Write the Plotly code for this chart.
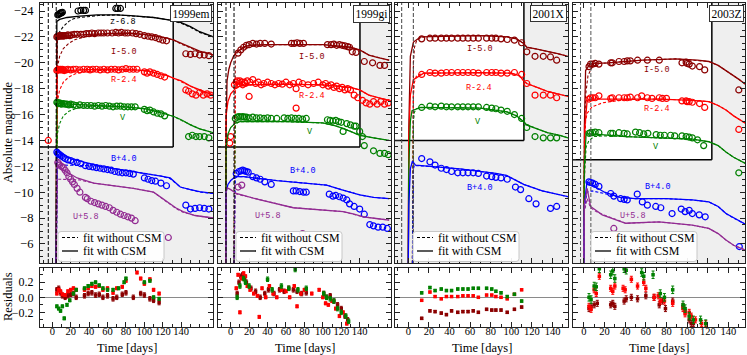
import plotly.graph_objects as go

# ---------------- SN 1999em ----------------
em_z_t = [6, 7, 8, 9, 10, 11, 28, 31, 34, 36, 69, 71, 74]
em_z = [-23.7, -23.75, -23.8, -23.85, -23.85, -23.9, -24.0, -24.05, -24.05, -24.05, -24.2, -24.2, -24.2]
em_z_fit_t = [4.3, 4.6, 5, 8, 16, 30, 49, 70, 85, 110, 128, 140, 150, 160, 175]
em_z_fit = [-4.5, -15, -23.2, -23.35, -23.5, -23.6, -23.7, -23.7, -23.65, -23.5, -23.3, -23.1, -22.8, -22.4, -22.0]
em_z_nocsm_t = [4.3, 4.8, 5.5, 8, 12, 18, 23, 30, 38, 50, 70, 110, 128, 140, 150, 160, 175]
em_z_nocsm = [-4.5, -18, -21.9, -22.4, -22.8, -23.2, -23.4, -23.5, -23.55, -23.65, -23.7, -23.5, -23.3, -23.05, -22.75, -22.35, -22.0]

em_I_t = [5, 6, 7, 8, 9, 10, 11, 12, 13, 15, 17, 19, 21, 24, 27, 31, 34, 37, 40, 43, 46, 50, 53, 56,
          60, 65, 69, 72, 75, 79, 82, 87, 91, 95, 100, 104, 108, 112, 116, 120, 124, 145, 150, 155, 160, 165, 170]
em_I = [-22.0, -22.05, -22.05, -22.1, -22.05, -22.1, -22.1, -22.05, -22.1, -22.1, -22.15, -22.1, -22.15, -22.2,
        -22.2, -22.2, -22.2, -22.25, -22.25, -22.3, -22.25, -22.3, -22.3, -22.3, -22.3, -22.3, -22.35, -22.3,
        -22.35, -22.3, -22.3, -22.3, -22.25, -22.2, -22.1, -22.05, -22.0, -21.95, -21.85, -21.75, -21.7,
        -20.7, -20.65, -20.7, -20.6, -20.6, -20.55]
em_I_fit_t = [4.3, 4.6, 5, 10, 20, 40, 60, 80, 100, 115, 125, 132, 140, 150, 160, 175]
em_I_fit = [-4.5, -15, -21.9, -22.0, -22.1, -22.2, -22.25, -22.3, -22.2, -22.05, -21.9, -21.75, -21.5, -21.2, -20.9, -20.6]
em_I_nocsm_t = [4.3, 4.8, 5.5, 8, 12, 18, 25, 35, 50, 70, 100, 115, 125, 132, 140, 150, 160, 175]
em_I_nocsm = [-4.5, -17, -19.6, -20.5, -21.1, -21.5, -21.8, -22.0, -22.15, -22.25, -22.2, -22.05, -21.9, -21.75,
              -21.45, -21.15, -20.85, -20.6]

em_R_t = [-4.3, 5, 6, 7, 8, 9, 10, 11, 12, 13, 15, 17, 20, 23, 26, 30, 34, 38, 41, 44, 48, 52, 56, 60, 64, 68,
          72, 76, 80, 84, 88, 92, 100, 103, 106, 110, 114, 118, 122, 145, 148, 152, 156, 160, 164, 168, 172]
em_R = [-14.0, -19.4, -19.45, -19.5, -19.45, -19.5, -19.45, -19.5, -19.45, -19.4, -19.45, -19.5, -19.45, -19.5,
        -19.5, -19.45, -19.5, -19.5, -19.45, -19.5, -19.5, -19.45, -19.5, -19.45, -19.5, -19.5, -19.45, -19.5,
        -19.55, -19.5, -19.5, -19.5, -19.3, -19.2, -19.3, -19.2, -19.1, -19.0, -18.9, -17.9, -17.8, -17.6,
        -17.5, -17.7, -17.5, -17.6, -17.5]
em_R_fit_t = [4.3, 4.6, 5, 10, 30, 60, 90, 105, 115, 125, 132, 140, 150, 160, 175]
em_R_fit = [-4.5, -15, -19.3, -19.35, -19.45, -19.5, -19.45, -19.35, -19.2, -19.0, -18.8, -18.6, -18.2, -17.9, -17.5]
em_R_nocsm_t = [4.3, 4.8, 5.5, 8, 12, 18, 25, 35, 50, 70, 90, 105, 115, 125, 132, 140, 150, 160, 175]
em_R_nocsm = [-4.5, -15, -17.0, -17.9, -18.5, -18.9, -19.15, -19.3, -19.4, -19.45, -19.45, -19.35, -19.2, -19.0,
              -18.8, -18.55, -18.2, -17.85, -17.5]

em_V_t = [5, 6, 7, 8, 9, 10, 12, 14, 16, 18, 20, 23, 26, 30, 34, 38, 42, 46, 50, 54, 58, 62, 66, 70, 74, 78,
          82, 86, 90, 100, 103, 106, 110, 114, 118, 122, 148, 152, 156, 160, 165, 170]
em_V = [-16.95, -16.9, -16.85, -16.9, -16.85, -16.8, -16.85, -16.8, -16.8, -16.75, -16.8, -16.75, -16.7, -16.75,
        -16.7, -16.7, -16.7, -16.65, -16.7, -16.65, -16.7, -16.65, -16.6, -16.65, -16.65, -16.6, -16.6, -16.6,
        -16.6, -16.4, -16.3, -16.35, -16.2, -16.1, -16.05, -15.9, -14.3, -14.4, -14.3, -14.3, -14.3, -14.2]
em_V_fit_t = [4.3, 4.6, 5, 10, 30, 60, 80, 100, 115, 125, 132, 140, 150, 160, 175]
em_V_fit = [-4.5, -14, -16.9, -16.85, -16.75, -16.65, -16.6, -16.45, -16.2, -16.0, -15.85, -15.6, -15.2, -14.9, -14.6]
em_V_nocsm_t = [4.3, 4.8, 5.5, 8, 12, 18, 25, 35, 50, 70, 100, 115, 125, 132, 140, 150, 160, 175]
em_V_nocsm = [-4.5, -13, -14.5, -15.3, -15.9, -16.25, -16.45, -16.6, -16.65, -16.65, -16.45, -16.2, -16.0,
              -15.85, -15.55, -15.2, -14.9, -14.6]

em_B_t = [5, 6, 7, 8, 10, 12, 14, 17, 20, 23, 27, 31, 36, 40, 44, 48, 52, 56, 60, 64, 68, 72, 76, 80, 84, 88,
          100, 104, 108, 112, 118, 124, 145, 150, 155, 160, 165, 170]
em_B = [-13.1, -13.0, -12.95, -12.9, -12.8, -12.7, -12.6, -12.5, -12.45, -12.35, -12.3, -12.2, -12.05, -12.0,
        -11.95, -11.9, -11.85, -11.8, -11.75, -11.7, -11.6, -11.55, -11.5, -11.5, -11.45, -11.4, -11.1, -11.0,
        -10.9, -10.85, -10.7, -10.5, -9.0, -8.7, -8.75, -8.8, -8.75, -8.7]
em_B_fit_t = [4.3, 4.6, 5, 7, 20, 52, 80, 100, 118, 128, 135, 139, 150, 160, 175]
em_B_fit = [-4.5, -10, -13.1, -13.1, -12.6, -12.0, -11.7, -11.5, -11.25, -11.1, -10.7, -10.4, -10.2, -10.05, -9.9]
em_B_nocsm_t = [4.3, 4.8, 5.5, 10, 20, 30, 40, 52, 80, 100, 118, 128, 135, 139, 150, 160, 175]
em_B_nocsm = [-4.5, -11.5, -12.0, -12.1, -12.1, -12.1, -12.05, -12.0, -11.7, -11.5, -11.25, -11.05, -10.65,
              -10.4, -10.2, -10.0, -9.9]

em_U_t = [6, 7, 8, 10, 12, 14, 16, 18, 20, 22, 24, 27, 30, 36, 38, 42, 46, 50, 54, 58, 62, 66, 70, 74, 78, 82,
          86, 90, 126]
em_U = [-12.3, -12.2, -12.1, -12.0, -11.9, -11.7, -11.5, -11.2, -11.0, -10.8, -10.6, -10.3, -10.0, -9.6, -9.5,
        -9.3, -9.2, -9.1, -9.0, -8.9, -8.8, -8.6, -8.45, -8.3, -8.2, -8.1, -8.0, -7.8, -6.5]
em_U_fit_t = [4.3, 4.6, 5, 10, 20, 27, 45, 70, 88, 110, 126, 134, 142, 155, 175]
em_U_fit = [-4.5, -10, -12.0, -11.8, -11.4, -11.1, -10.7, -10.5, -10.3, -10.0, -9.2, -8.8, -8.5, -8.2, -8.0]
em_U_nocsm_t = [4.3, 4.8, 5.5, 10, 20, 25, 30, 45, 70, 88, 110, 126, 134, 142, 155, 175]
em_U_nocsm = [-4.5, -10.0, -11.0, -11.0, -11.0, -11.0, -10.95, -10.7, -10.5, -10.3, -10.0, -9.2, -8.75, -8.45,
              -8.2, -8.0]

em_res_I_t = [5, 7, 9, 11, 14, 17, 20, 23, 26, 35, 39, 43, 47, 51, 55, 60, 66, 70, 76, 80, 88, 96, 100, 106, 110, 116]
em_res_I = [0.10, 0.12, 0.06, 0.02, 0.0, 0.02, 0.04, 0.05, 0.0, 0.02, 0.05, 0.06, 0.03, 0.04, 0.0, 0.02, -0.02,
            0.0, 0.04, 0.06, 0.0, 0.05, 0.03, -0.02, -0.04, -0.07]
em_res_R_t = [5, 7, 9, 11, 14, 17, 20, 23, 26, 35, 39, 43, 47, 51, 55, 60, 66, 70, 76, 80, 92, 96, 100, 106, 110, 116]
em_res_R = [0.05, 0.1, 0.08, 0.04, 0.03, 0.08, 0.1, 0.12, 0.1, 0.1, 0.12, 0.15, 0.14, 0.15, 0.1, 0.12, 0.06,
            0.12, 0.14, 0.22, 0.33, 0.25, 0.18, 0.24, 0.1, 0.05]
em_res_V_t = [5, 7, 9, 11, 13, 16, 19, 23, 26, 35, 39, 43, 47, 51, 55, 60, 66, 72, 78, 80, 100, 106, 110, 116]
em_res_V = [-0.12, -0.15, -0.18, -0.12, -0.28, -0.1, -0.04, 0.05, 0.1, 0.12, 0.15, 0.18, 0.2, 0.16, 0.12, 0.1,
            0.1, 0.12, 0.2, 0.25, 0.2, 0.22, 0.0, -0.02]

# ---------------- SN 1999gi ----------------
gi_I_t = [8, 11, 14, 17, 20, 24, 28, 32, 37, 44, 66, 69, 72, 75, 79, 105, 109, 112, 115, 118, 121, 124, 127,
          129, 132, 136, 145, 154, 162, 167]
gi_I = [-20.75, -21.0, -21.2, -21.35, -21.4, -21.5, -21.45, -21.5, -21.5, -21.45, -21.5, -21.5, -21.55, -21.5,
        -21.5, -21.4, -21.4, -21.45, -21.35, -21.4, -21.35, -21.3, -21.25, -21.2, -20.85, -20.8, -20.1, -20.0,
        -19.8, -19.8]
gi_I_fit_t = [-5.5, -5, -4, -2, 0, 3, 6, 10, 15, 20, 40, 100, 130, 140, 150, 160, 172]
gi_I_fit = [-4.5, -15, -18.6, -19.5, -20.0, -20.5, -20.8, -21.0, -21.25, -21.35, -21.4, -21.4, -21.2, -21.0,
            -20.6, -20.4, -20.2]
gi_I_nocsm_t = [3.6, 4.2, 5, 7, 10, 15, 20, 40, 100, 130, 140, 150, 160, 172]
gi_I_nocsm = [-4.5, -18.5, -20.3, -20.8, -21.0, -21.25, -21.35, -21.4, -21.4, -21.2, -21.0, -20.6, -20.4, -20.2]

gi_R_t = [-1, 0, 4, 6, 7, 9, 10, 12, 13, 15, 16, 18, 20, 21, 24, 27, 30, 33, 36, 40, 44, 48, 52, 56, 60, 64,
          68, 71, 71, 74, 78, 84, 90, 95, 100, 103, 106, 109, 112, 115, 118, 121, 124, 127, 130, 134, 138, 143,
          147, 151, 155, 159, 163, 167, 171]
gi_R = [-13.8, -14.3, -18.3, -18.5, -18.6, -18.4, -18.6, -18.5, -18.3, -18.5, -18.4, -18.6, -17.4, -18.5, -18.7,
        -18.4, -18.5, -18.3, -18.4, -18.5, -18.4, -18.3, -18.4, -18.35, -18.5, -18.3, -18.4, -18.0, -16.5, -18.5,
        -18.4, -18.3, -18.4, -18.5, -18.3, -18.4, -18.2, -18.3, -18.1, -18.2, -18.0, -18.1, -17.9, -18.0, -17.9,
        -17.5, -17.3, -17.1, -16.9, -16.8, -17.0, -16.8, -17.0, -16.8, -16.9]
gi_R_fit_t = [-5.5, -5, -3, 0, 5, 10, 20, 60, 100, 130, 140, 150, 160, 172]
gi_R_fit = [-4.5, -16, -17.0, -17.6, -18.0, -18.2, -18.3, -18.35, -18.3, -18.1, -17.9, -17.5, -17.3, -17.1]
gi_R_nocsm_t = [3.6, 4.2, 5, 7, 10, 20, 60, 100, 130, 140, 150, 160, 172]
gi_R_nocsm = [-4.5, -16.5, -17.8, -18.1, -18.2, -18.3, -18.35, -18.3, -18.1, -17.9, -17.5, -17.3, -17.1]

gi_V_t = [5, 7, 9, 11, 13, 15, 17, 20, 24, 28, 32, 36, 40, 44, 50, 58, 62, 66, 70, 74, 78, 82, 105, 108, 111,
          114, 117, 120, 122, 126, 130, 134, 136, 140, 143, 145, 155, 162, 167, 171]
gi_V = [-15.7, -15.8, -15.85, -15.8, -15.85, -15.8, -15.8, -15.75, -15.8, -15.75, -15.75, -15.7, -15.75, -15.7,
        -15.7, -15.75, -15.7, -15.75, -15.7, -15.7, -15.65, -15.7, -15.6, -15.55, -15.5, -15.55, -15.45, -15.4,
        -14.7, -15.3, -15.2, -15.1, -15.1, -14.7, -14.3, -13.6, -13.2, -13.0, -13.0, -12.9]
gi_V_fit_t = [-5.5, -5, -3, 0, 5, 10, 20, 60, 100, 115, 130, 140, 155, 172]
gi_V_fit = [-4.5, -13.5, -14.5, -15.0, -15.35, -15.45, -15.45, -15.45, -15.35, -15.1, -14.7, -14.4, -14.2, -14.0]
gi_V_nocsm_t = [3.6, 4.2, 5, 7, 10, 20, 60, 100, 115, 130, 140, 155, 172]
gi_V_nocsm = [-4.5, -14, -15.1, -15.35, -15.45, -15.45, -15.45, -15.35, -15.1, -14.7, -14.4, -14.2, -14.0]

gi_B_t = [6, 9, 11, 13, 15, 17, 19, 24, 28, 32, 37, 44, 68, 71, 75, 79, 82, 107, 111, 114, 118, 122, 126, 129,
          134, 140, 145, 151, 155, 160, 165, 170]
gi_B = [-11.45, -11.6, -11.65, -11.7, -11.65, -11.6, -11.55, -11.2, -11.1, -11.0, -10.8, -10.6, -10.1, -10.1,
        -10.05, -10.0, -10.0, -9.85, -9.7, -9.75, -9.65, -9.55, -9.4, -9.1, -8.9, -8.7, -8.3, -7.5, -7.4, -7.3,
        -7.3, -7.2]
gi_B_fit_t = [-5.5, -5, -3, 0, 5, 14, 50, 104, 120, 130, 140, 155, 172]
gi_B_fit = [-4.5, -10, -10.6, -10.9, -11.2, -11.2, -10.9, -10.55, -10.2, -10.0, -9.8, -9.6, -9.5]
gi_B_nocsm_t = [3.6, 4.2, 5, 7, 14, 50, 104, 120, 130, 140, 155, 172]
gi_B_nocsm = [-4.5, -10.5, -11.1, -11.2, -11.2, -10.9, -10.55, -10.2, -10.0, -9.8, -9.6, -9.5]

gi_U_t = [8, 12, 78]
gi_U = [-10.4, -10.55, -6.8]
gi_U_fit_t = [-5.5, -5, -4, 0, 6, 32, 68, 122, 134, 144, 160, 172]
gi_U_fit = [-4.5, -10.0, -10.35, -10.2, -9.9, -9.4, -8.8, -8.5, -8.3, -8.1, -7.95, -7.85]
gi_U_nocsm_t = [3.6, 4.2, 5, 7, 32, 68, 122, 134, 144, 160, 172]
gi_U_nocsm = [-4.5, -9.5, -9.9, -9.85, -9.4, -8.8, -8.5, -8.3, -8.1, -7.95, -7.85]

gi_res_I_t = [7, 9, 11, 13, 15, 17, 22, 27, 32, 37, 41, 47, 53, 58, 63, 68, 72, 77, 82, 101, 104, 108, 112,
              116, 120, 124, 127]
gi_res_I = [0.05, 0.2, 0.28, 0.3, 0.25, 0.2, 0.12, 0.08, 0.0, 0.05, 0.1, 0.05, 0.1, 0.08, 0.12, 0.1, 0.08, 0.05,
            0.06, 0.05, 0.0, 0.02, -0.05, -0.1, -0.15, -0.25, -0.3]
gi_res_R_t = [6, 8, 10, 12, 14, 16, 18, 21, 25, 29, 31, 34, 38, 42, 46, 50, 55, 60, 64, 69, 72, 76, 80, 88, 96,
              100, 103, 106, 110, 114, 118, 122, 126]
gi_res_R = [0.12, 0.3, -0.2, 0.25, 0.32, 0.28, 0.15, 0.1, 0.05, 0.02, -0.26, 0.12, 0.0, 0.15, 0.05, 0.0, 0.1,
            0.08, 0.0, 0.15, -0.12, 0.05, 0.1, 0.05, 0.1, 0.0, -0.08, -0.1, -0.05, -0.15, -0.25, -0.2, -0.35]
gi_res_V_t = [7, 10, 14, 16, 20, 40, 45, 55, 63, 70, 73, 82, 101, 104, 108, 112, 116, 120, 125, 128]
gi_res_V = [0.0, 0.15, 0.25, 0.2, 0.15, 0.24, 0.1, 0.15, 0.12, 0.37, 0.1, 0.12, 0.05, 0.0, -0.02, -0.05, -0.15,
            -0.2, -0.25, -0.32]

# ---------------- SN 2001X ----------------
x01_t = [13, 21, 26, 32, 37, 42, 48, 53, 58, 63, 68, 76, 81, 85, 90, 96, 103, 110, 115, 123, 131, 138, 144]
x01_I = [-21.85, -21.9, -21.9, -21.9, -21.9, -21.9, -21.9, -21.9, -21.9, -21.9, -21.9, -21.9, -21.9, -21.9,
         -21.85, -21.8, -21.75, -21.55, -20.85, -20.5, -20.5, -20.45, -20.2]
x01_R = [-19.1, -19.25, -19.2, -19.2, -19.25, -19.25, -19.25, -19.25, -19.25, -19.25, -19.2, -19.25, -19.25,
         -19.25, -19.2, -19.2, -19.25, -19.1, -18.4, -17.5, -17.5, -17.5, -17.3]
x01_V = [-16.55, -16.65, -16.6, -16.65, -16.6, -16.6, -16.6, -16.6, -16.6, -16.6, -16.6, -16.55, -16.5, -16.45,
         -16.35, -16.25, -16.0, -15.7, -15.0, -14.3, -14.2, -14.2, -14.2]
x01_B_t = [13, 21, 26, 32, 37, 42, 48, 53, 58, 63, 68, 76, 81, 85, 90, 96, 104, 109, 117, 124, 138, 144]
x01_B = [-12.6, -12.35, -12.1, -11.85, -11.75, -11.6, -11.5, -11.5, -11.5, -11.5, -11.45, -11.25, -11.2, -11.15,
         -11.1, -11.0, -10.4, -10.2, -9.5, -9.1, -8.75, -8.9]
x01_I_fit_t = [0, 0.5, 2, 5, 12, 38, 70, 96, 105, 112, 115, 125, 135, 145, 155]
x01_I_fit = [-4.5, -15, -20.5, -21.6, -22.0, -22.07, -22.1, -22.0, -21.85, -21.5, -21.2, -21.05, -20.9, -20.7, -20.5]
x01_I_nocsm_t = [4, 5, 6, 8, 12, 20, 38, 70, 96, 105, 112, 115, 125, 135, 145, 155]
x01_I_nocsm = [-4.5, -20, -21.2, -21.7, -21.95, -22.05, -22.07, -22.1, -22.0, -21.85, -21.5, -21.2, -21.05,
               -20.9, -20.7, -20.5]
x01_R_fit_t = [0, 0.5, 2, 5, 15, 40, 70, 100, 108, 112, 115, 125, 135, 145, 155]
x01_R_fit = [-4.5, -14, -17.5, -18.7, -19.2, -19.23, -19.23, -19.2, -19.0, -18.6, -18.4, -18.1, -17.8, -17.6, -17.4]
x01_R_nocsm_t = [4, 5, 6, 8, 15, 40, 70, 100, 108, 112, 115, 125, 135, 145, 155]
x01_R_nocsm = [-4.5, -17.5, -18.5, -19.0, -19.2, -19.23, -19.23, -19.2, -19.0, -18.6, -18.4, -18.1, -17.8,
               -17.6, -17.4]
x01_V_fit_t = [0, 0.5, 2, 3.6, 12, 40, 70, 96, 105, 112, 115, 125, 135, 147, 155]
x01_V_fit = [-4.5, -12, -15.5, -16.3, -16.55, -16.5, -16.5, -16.2, -15.9, -15.45, -15.2, -14.9, -14.6, -14.4, -14.2]
x01_V_nocsm_t = [4, 5, 6, 8, 12, 40, 70, 96, 105, 112, 115, 125, 135, 147, 155]
x01_V_nocsm = [-4.5, -15.5, -16.2, -16.45, -16.55, -16.5, -16.5, -16.2, -15.9, -15.45, -15.2, -14.9, -14.6,
               -14.4, -14.2]
x01_B_fit_t = [0, 0.5, 2, 4, 7, 20, 50, 85, 95, 105, 112, 130, 155]
x01_B_fit = [-4.5, -9, -11.8, -12.4, -12.1, -12.0, -11.8, -11.45, -11.3, -10.9, -10.6, -10.1, -9.65]
x01_B_nocsm_t = [4, 5, 6, 8, 20, 50, 85, 95, 105, 112, 130, 155]
x01_B_nocsm = [-4.5, -11.8, -12.1, -12.05, -12.0, -11.8, -11.45, -11.3, -10.9, -10.6, -10.1, -9.65]

x01_res_t = [13, 21, 26, 32, 37, 42, 48, 53, 58, 63, 68, 76, 81, 85, 90, 96, 103, 110]
x01_res_V = [0.06, 0.13, 0.09, 0.11, 0.09, 0.09, 0.11, 0.11, 0.11, 0.12, 0.12, 0.12, 0.11, 0.08, 0.06, 0.01,
             0.04, -0.05]
x01_res_R = [-0.04, 0.07, 0.01, -0.02, 0.01, 0.01, 0.01, 0.02, 0.02, 0.02, 0.0, 0.03, 0.03, 0.01, 0.0, -0.02,
             0.04, 0.1]
x01_res_I = [-0.28, -0.18, -0.19, -0.21, -0.23, -0.18, -0.2, -0.19, -0.19, -0.18, -0.2, -0.16, -0.17, -0.17,
             -0.17, -0.2, -0.16, -0.13]

# ---------------- SN 2003Z ----------------
z03_I_t = [5, 6.5, 8.5, 11, 14.6, 26, 27.5, 34, 39, 42, 45, 52, 61.5, 73, 95, 99, 100, 102, 105, 112, 117, 150]
z03_I = [-19.7, -19.9, -19.9, -19.95, -19.9, -20.0, -20.0, -20.1, -20.1, -20.15, -20.15, -20.2, -20.2, -20.2,
         -20.0, -20.05, -19.95, -19.9, -19.75, -19.7, -19.45, -17.9]
z03_R_t = [5, 6.5, 8.5, 11, 14.6, 26, 27.5, 34, 39, 42, 45, 52, 56, 61.5, 66, 73, 76, 80, 95, 99, 100, 102, 105,
           112, 117, 150]
z03_R = [-17.2, -17.3, -17.3, -17.3, -17.45, -17.25, -17.3, -17.3, -17.3, -17.3, -17.35, -17.3, -17.45, -17.3,
         -17.25, -17.3, -17.25, -17.25, -17.05, -17.05, -17.0, -17.0, -16.95, -16.85, -16.55, -14.85]
z03_V_t = [5, 6.5, 8.5, 11, 14.6, 26, 28, 34, 39, 42, 50, 54, 58, 62, 70, 74, 78, 84, 88, 95, 99, 102, 105, 110,
           116, 150]
z03_V = [-14.55, -14.6, -14.6, -14.65, -14.6, -14.55, -14.55, -14.6, -14.55, -14.5, -14.65, -14.6, -14.5, -14.55,
         -14.45, -14.4, -14.4, -14.4, -14.35, -14.35, -14.3, -14.25, -14.2, -14.05, -13.6, -11.5]
z03_B_t = [4.9, 6.5, 8.5, 11, 14.6, 26, 29, 35.6, 39, 42, 51.7, 56.6, 61.5, 69.6, 74.5, 85.4, 94.3, 98, 102, 105,
           111.7, 117.5, 150.5]
z03_B = [-10.8, -10.75, -10.7, -10.6, -10.45, -9.9, -9.7, -9.5, -9.45, -9.4, -9.85, -9.25, -9.0, -8.9, -8.8,
         -8.35, -8.7, -8.5, -8.6, -8.35, -8.25, -8.1, -5.8]
z03_U_t = [29]
z03_U = [-7.2]
z03_I_fit_t = [0, 0.5, 1.7, 4.9, 8, 24, 56.6, 89, 110, 121, 130, 137.6, 145, 150.5, 157]
z03_I_fit = [-4.5, -15, -19.4, -19.8, -19.96, -20.0, -20.2, -20.3, -20.2, -20.1, -19.8, -19.4, -19.0, -18.7, -18.3]
z03_I_nocsm_t = [0, 0.5, 1.7, 4, 8, 15, 24, 56.6, 89, 110, 121, 130, 137.6, 145, 150.5, 157]
z03_I_nocsm = [-4.5, -14, -17.5, -19.0, -19.7, -19.95, -20.0, -20.2, -20.3, -20.2, -20.1, -19.8, -19.4, -19.0,
               -18.7, -18.3]
z03_R_fit_t = [0, 0.5, 1, 3.2, 8, 40.5, 72.8, 105, 121, 130, 137.6, 145, 157]
z03_R_fit = [-6.8, -10, -15, -17.1, -17.2, -17.2, -17.2, -17.1, -17.0, -16.7, -16.35, -15.9, -15.3]
z03_R_nocsm_t = [0, 0.5, 1.7, 3.2, 8, 17.8, 39, 72.8, 105, 121, 130, 137.6, 145, 157]
z03_R_nocsm = [-4.5, -12, -15.5, -16.1, -16.6, -16.9, -17.15, -17.2, -17.1, -17.0, -16.7, -16.35, -15.9, -15.3]
z03_V_fit_t = [0, 0.5, 2.2, 8, 40.5, 72.8, 105, 121, 130, 137.6, 145, 157]
z03_V_fit = [-4.5, -12, -14.5, -14.5, -14.3, -14.2, -14.1, -13.9, -13.6, -13.1, -12.7, -12.2]
z03_V_nocsm_t = [0, 0.5, 2.2, 5, 10, 20, 40.5, 72.8, 105, 121, 130, 137.6, 145, 157]
z03_V_nocsm = [-4.5, -11, -13.5, -14.0, -14.3, -14.35, -14.3, -14.2, -14.1, -13.9, -13.6, -13.1, -12.7, -12.2]
z03_B_fit_t = [0, 0.5, 3, 8, 20, 35, 50, 80, 105, 121, 130, 137.6, 145, 157]
z03_B_fit = [-4.5, -9, -10.8, -10.55, -10.0, -9.6, -9.5, -9.5, -9.4, -9.25, -8.9, -8.35, -8.0, -7.5]
z03_B_nocsm_t = [0, 0.5, 3, 8, 20, 35, 50, 80, 105, 121, 130, 137.6, 145, 157]
z03_B_nocsm = [-4.5, -8.5, -10.0, -10.1, -9.9, -9.6, -9.5, -9.5, -9.4, -9.25, -8.9, -8.35, -8.0, -7.5]
z03_U_fit_t = [0, 0.5, 3.2, 6.5, 17.8, 40.5, 72.8, 105, 121, 130, 137.6, 145, 157]
z03_U_fit = [-4.5, -9, -10.3, -8.9, -8.25, -7.6, -7.7, -7.45, -7.2, -6.8, -6.3, -5.9, -5.5]
z03_U_nocsm_t = [0, 0.5, 3.2, 6.5, 12, 17.8, 40.5, 72.8, 105, 121, 130, 137.6, 145, 157]
z03_U_nocsm = [-4.5, -8.5, -9.5, -8.8, -8.5, -8.3, -7.6, -7.7, -7.45, -7.2, -6.8, -6.3, -5.9, -5.5]

z03_res_I_t = [5, 7, 10, 13, 26, 28, 30, 39, 41, 46, 52, 60, 68, 73, 76, 79, 86, 96, 98, 102, 104, 106]
z03_res_I = [-0.15, -0.12, -0.1, -0.08, -0.1, -0.08, -0.12, -0.05, -0.02, 0.0, -0.02, 0.02, 0.0, -0.1, -0.05,
             -0.15, -0.05, -0.12, -0.18, -0.3, -0.35, -0.35]
z03_res_R_t = [5, 7, 10, 12, 15, 26, 28, 30, 38, 40, 46, 52, 58, 60, 68, 72, 74, 78, 86, 96, 98, 102, 104, 108,
               114, 118]
z03_res_R = [-0.12, -0.16, 0.1, 0.05, 0.28, 0.12, 0.08, 0.15, 0.12, 0.1, 0.24, 0.15, 0.2, 0.12, 0.0, 0.02, -0.05,
             -0.05, -0.08, -0.15, -0.22, -0.2, -0.25, -0.3, -0.35, -0.35]
z03_res_V_t = [5, 7, 10, 12, 15, 26, 28, 30, 39, 41, 56, 58, 67, 74, 78, 86, 96, 98, 102, 106, 113, 118]
z03_res_V = [0.0, -0.03, 0.15, 0.14, 0.38, 0.3, 0.35, 0.25, 0.38, 0.36, 0.33, 0.28, 0.3, 0.05, 0.0, 0.1, -0.1,
             -0.15, -0.25, -0.3, -0.3, -0.35]

time_ticks = [0, 20, 40, 60, 80, 100, 120, 140]

# ---------------- style / geometry ----------------
COLORS = {'z': '#000000', 'I': '#8b0000', 'R': '#ff0000', 'V': '#008000', 'B': '#0000ff', 'U': '#922b92'}
SERIF = 'Liberation Serif'
MONO = 'Liberation Mono'
GRAY = '#efefef'
AX = '#222222'

W, H = 747, 355
ML, MR, MT, MB = 40, 2, 3, 28


def fx(px):
    return (px - ML) / (W - ML - MR)


def fy(py):
    return (H - MB - py) / (H - MT - MB)


PANEL_PX = [(40, 213), (218, 391), (395, 568), (573, 745)]
XRANGES = [[-13.3, 174.5], [-13.8, 174.0], [-12.9, 155.0], [-10.5, 156.0]]
YRANGE = [-4.53, -24.62]
RES_RANGE = [-0.395, 0.39]

panels = [
    dict(name='1999em', t_end=131.3, cut=-13.5, vlines=[-4.3, 4.3], vcol='black',
         bands=[('z', em_z_t, em_z, em_z_fit_t, em_z_fit, em_z_nocsm_t, em_z_nocsm),
                ('I', em_I_t, em_I, em_I_fit_t, em_I_fit, em_I_nocsm_t, em_I_nocsm),
                ('R', em_R_t, em_R, em_R_fit_t, em_R_fit, em_R_nocsm_t, em_R_nocsm),
                ('V', em_V_t, em_V, em_V_fit_t, em_V_fit, em_V_nocsm_t, em_V_nocsm),
                ('B', em_B_t, em_B, em_B_fit_t, em_B_fit, em_B_nocsm_t, em_B_nocsm),
                ('U', em_U_t, em_U, em_U_fit_t, em_U_fit, em_U_nocsm_t, em_U_nocsm)],
         res=[('I', em_res_I_t, em_res_I, 0.03), ('R', em_res_R_t, em_res_R, 0.02),
              ('V', em_res_V_t, em_res_V, 0.02)],
         labels=[('z-6.8', 'z', 77, -23.17), ('I-5.0', 'I', 78, -20.8), ('R-2.4', 'R', 78, -18.67),
                 ('V', 'V', 77, -15.7), ('B+4.0', 'B', 78, -12.6), ('U+5.8', 'U', 37, -8.1)]),
    dict(name='1999gi', t_end=140.3, cut=-13.5, vlines=[-5.1, 3.6], vcol='black',
         bands=[('I', gi_I_t, gi_I, gi_I_fit_t, gi_I_fit, gi_I_nocsm_t, gi_I_nocsm),
                ('R', gi_R_t, gi_R, gi_R_fit_t, gi_R_fit, gi_R_nocsm_t, gi_R_nocsm),
                ('V', gi_V_t, gi_V, gi_V_fit_t, gi_V_fit, gi_V_nocsm_t, gi_V_nocsm),
                ('B', gi_B_t, gi_B, gi_B_fit_t, gi_B_fit, gi_B_nocsm_t, gi_B_nocsm),
                ('U', gi_U_t, gi_U, gi_U_fit_t, gi_U_fit, gi_U_nocsm_t, gi_U_nocsm)],
         res=[('I', gi_res_I_t, gi_res_I, 0.03), ('R', gi_res_R_t, gi_res_R, 0.02),
              ('V', gi_res_V_t, gi_res_V, 0.03)],
         labels=[('I-5.0', 'I', 88, -20.47), ('R-2.4', 'R', 88, -17.4), ('V', 'V', 86, -14.67),
                 ('B+4.0', 'B', 78, -11.66), ('U+5.8', 'U', 41, -8.16)]),
    dict(name='2001X', t_end=112.2, cut=-14.0, vlines=[-6.4, 4.9], vcol='#444444',
         bands=[('I', x01_t, x01_I, x01_I_fit_t, x01_I_fit, x01_I_nocsm_t, x01_I_nocsm),
                ('R', x01_t, x01_R, x01_R_fit_t, x01_R_fit, x01_R_nocsm_t, x01_R_nocsm),
                ('V', x01_t, x01_V, x01_V_fit_t, x01_V_fit, x01_V_nocsm_t, x01_V_nocsm),
                ('B', x01_B_t, x01_B, x01_B_fit_t, x01_B_fit, x01_B_nocsm_t, x01_B_nocsm)],
         res=[('I', x01_res_t, x01_res_I, 0.015), ('R', x01_res_t, x01_res_R, 0.012),
              ('V', x01_res_t, x01_res_V, 0.015)],
         labels=[('I-5.0', 'I', 69.5, -21.1), ('R-2.4', 'R', 69, -18.03), ('V', 'V', 68, -15.45),
                 ('B+4.0', 'B', 69.5, -10.35)]),
    dict(name='2003Z', t_end=123.9, cut=-12.5, vlines=[-3.2, 6.8], vcol='#555555',
         bands=[('I', z03_I_t, z03_I, z03_I_fit_t, z03_I_fit, z03_I_nocsm_t, z03_I_nocsm),
                ('R', z03_R_t, z03_R, z03_R_fit_t, z03_R_fit, z03_R_nocsm_t, z03_R_nocsm),
                ('V', z03_V_t, z03_V, z03_V_fit_t, z03_V_fit, z03_V_nocsm_t, z03_V_nocsm),
                ('B', z03_B_t, z03_B, z03_B_fit_t, z03_B_fit, z03_B_nocsm_t, z03_B_nocsm),
                ('U', z03_U_t, z03_U, z03_U_fit_t, z03_U_fit, z03_U_nocsm_t, z03_U_nocsm)],
         res=[('I', z03_res_I_t, z03_res_I, 0.04), ('R', z03_res_R_t, z03_res_R, 0.04),
              ('V', z03_res_V_t, z03_res_V, 0.05)],
         labels=[('I-5.0', 'I', 70.5, -19.44), ('R-2.4', 'R', 70.5, -16.4), ('V', 'V', 70, -13.5),
                 ('B+4.0', 'B', 72, -10.42), ('U+5.8', 'U', 48, -8.16)]),
]

fig = go.Figure()
shapes = []
annotations = []
layout_axes = {}

common = dict(showline=True, linecolor=AX, linewidth=1.2, mirror='allticks', ticks='inside', ticklen=5,
              tickwidth=1, tickcolor=AX, showgrid=False, zeroline=False, automargin=False,
              tickfont=dict(family=SERIF, size=12, color='black'))


def minor(d):
    return dict(dtick=d, tick0=0, ticks='inside', ticklen=2.5, tickwidth=0.8, tickcolor=AX, showgrid=False)


def rounded_rect(x0, y0, x1, y1, r=3):
    X0, X1, YT, YB = fx(x0), fx(x1), fy(y0), fy(y1)
    rx, ry = r / (W - ML - MR), r / (H - MT - MB)
    return (f'M {X0 + rx},{YT} L {X1 - rx},{YT} Q {X1},{YT} {X1},{YT - ry} L {X1},{YB + ry} '
            f'Q {X1},{YB} {X1 - rx},{YB} L {X0 + rx},{YB} Q {X0},{YB} {X0},{YB + ry} '
            f'L {X0},{YT - ry} Q {X0},{YT} {X0 + rx},{YT} Z')


for k, p in enumerate(panels):
    xt = 'x' if k == 0 else f'x{k + 1}'
    yt = 'y' if k == 0 else f'y{k + 1}'
    xr, yr = f'x{k + 5}', f'y{k + 5}'
    left, right = PANEL_PX[k]

    for band, ot, om, ft, fm, nt, nm in p['bands']:
        c = COLORS[band]
        fig.add_trace(go.Scatter(x=nt, y=nm, mode='lines', line=dict(color=c, width=1.1, dash='3px,2px'),
                                 xaxis=xt, yaxis=yt, hoverinfo='skip'))
        fig.add_trace(go.Scatter(x=ft, y=fm, mode='lines', line=dict(color=c, width=1.3),
                                 xaxis=xt, yaxis=yt, hoverinfo='skip'))
        fig.add_trace(go.Scatter(x=ot, y=om, mode='markers',
                                 marker=dict(symbol='circle-open', size=6, color=c, line=dict(width=1.2, color=c)),
                                 xaxis=xt, yaxis=yt))

    for band, rt, rv, err in p['res']:
        c = COLORS[band]
        fig.add_trace(go.Scatter(x=rt, y=rv, mode='markers',
                                 marker=dict(symbol='square', size=3.5, color=c),
                                 error_y=dict(type='constant', value=err, color=c, thickness=1, width=1.5),
                                 xaxis=xr, yaxis=yr))

    # axes
    xa = 'xaxis' if k == 0 else f'xaxis{k + 1}'
    ya = 'yaxis' if k == 0 else f'yaxis{k + 1}'
    layout_axes[xa] = dict(common, domain=[fx(left), fx(right)], range=XRANGES[k], anchor=yt,
                           showticklabels=False, tickmode='array', tickvals=time_ticks, minor=minor(10))
    layout_axes[ya] = dict(common, domain=[fy(263), fy(3)], range=YRANGE, anchor=xt,
                           showticklabels=(k == 0), dtick=2, tick0=0, minor=minor(0.5),
                           ticklabelstandoff=3, tickfont=dict(family=SERIF, size=12.5, color='black'))
    layout_axes[f'xaxis{k + 5}'] = dict(common, domain=[fx(left), fx(right)], range=XRANGES[k], anchor=yr,
                                        tickmode='array', tickvals=time_ticks, minor=minor(10),
                                        ticklabelstandoff=-6,
                                        tickfont=dict(family=SERIF, size=10.5, color='black'))
    layout_axes[f'yaxis{k + 5}'] = dict(common, domain=[0, fy(268)], range=RES_RANGE, anchor=xr,
                                        showticklabels=(k == 0), dtick=0.2, tick0=0, tickformat='.1f',
                                        minor=minor(0.1), zeroline=True, zerolinecolor='#8a8a8a',
                                        zerolinewidth=1.2, ticklabelstandoff=3)

    # grey excluded regions and the fitted window
    shapes.append(dict(type='rect', xref=f'{xt} domain', yref=f'{yt} domain', x0=0, x1=1, y0=0, y1=1,
                       fillcolor=GRAY, line=dict(width=0), layer='below'))
    shapes.append(dict(type='rect', xref=xt, yref=yt, x0=XRANGES[k][0], x1=p['t_end'], y0=p['cut'],
                       y1=YRANGE[1], fillcolor='white', line=dict(width=0), layer='below'))
    shapes.append(dict(type='line', xref=xt, yref=yt, x0=XRANGES[k][0], x1=p['t_end'], y0=p['cut'],
                       y1=p['cut'], line=dict(color='black', width=1.5), layer='below'))
    shapes.append(dict(type='line', xref=xt, yref=yt, x0=p['t_end'], x1=p['t_end'], y0=p['cut'],
                       y1=YRANGE[1], line=dict(color='black', width=1.5), layer='below'))
    for v in p['vlines']:
        shapes.append(dict(type='line', xref=xt, yref=f'{yt} domain', x0=v, x1=v, y0=0, y1=1,
                           line=dict(color=p['vcol'], width=1, dash='4px,2px')))

    # legend box
    shapes.append(dict(type='path', xref='paper', yref='paper', path=rounded_rect(left + 18, 231.5, left + 124, 261.5),
                       fillcolor='rgba(255,255,255,0.92)', line=dict(color='#c8c8c8', width=1)))
    shapes.append(dict(type='line', xref='paper', yref='paper', x0=fx(left + 22), x1=fx(left + 38),
                       y0=fy(237.5), y1=fy(237.5), line=dict(color='black', width=1.1, dash='3px,2px')))
    shapes.append(dict(type='line', xref='paper', yref='paper', x0=fx(left + 22), x1=fx(left + 38),
                       y0=fy(251), y1=fy(251), line=dict(color='black', width=1.3)))
    for txt, yy in [('fit without CSM', 237.5), ('fit with CSM', 251)]:
        annotations.append(dict(text=txt, xref='paper', yref='paper', x=fx(left + 41), y=fy(yy),
                                xanchor='left', yanchor='middle', showarrow=False,
                                font=dict(family=SERIF, size=12, color='black')))

    # supernova name
    annotations.append(dict(text=p['name'], xref='paper', yref='paper', x=fx(right - 1.5), y=fy(4.5),
                            xanchor='right', yanchor='top', showarrow=False, bgcolor='white',
                            bordercolor='#333333', borderwidth=1, borderpad=1.5,
                            font=dict(family=SERIF, size=11.5, color='black')))

    # band labels
    for txt, band, lx, ly in p['labels']:
        annotations.append(dict(text=txt, xref=xt, yref=yt, x=lx, y=ly, showarrow=False,
                                font=dict(family=MONO, size=8.5, color=COLORS[band])))

    # x axis title
    annotations.append(dict(text='Time [days]', xref='paper', yref='paper', x=fx((left + right) / 2),
                            y=fy(347.5), xanchor='center', yanchor='middle', showarrow=False,
                            font=dict(family=SERIF, size=12.5, color='black')))

annotations.append(dict(text='Absolute magnitude', xref='paper', yref='paper', x=fx(8), y=fy(133),
                        textangle=-90, showarrow=False, xanchor='center', yanchor='middle',
                        font=dict(family=SERIF, size=12.5, color='black')))
annotations.append(dict(text='Residuals', xref='paper', yref='paper', x=fx(8), y=fy(297),
                        textangle=-90, showarrow=False, xanchor='center', yanchor='middle',
                        font=dict(family=SERIF, size=12.5, color='black')))

fig.update_layout(
    template='none',
    width=W, height=H,
    margin=dict(l=ML, r=MR, t=MT, b=MB, autoexpand=False),
    plot_bgcolor='white', paper_bgcolor='white',
    showlegend=False,
    shapes=shapes,
    annotations=annotations,
    **layout_axes,
)

fig.write_html("out.html", config={'displayModeBar': False},
               post_script="document.body.style.margin='0px';document.body.style.overflow='hidden';")
